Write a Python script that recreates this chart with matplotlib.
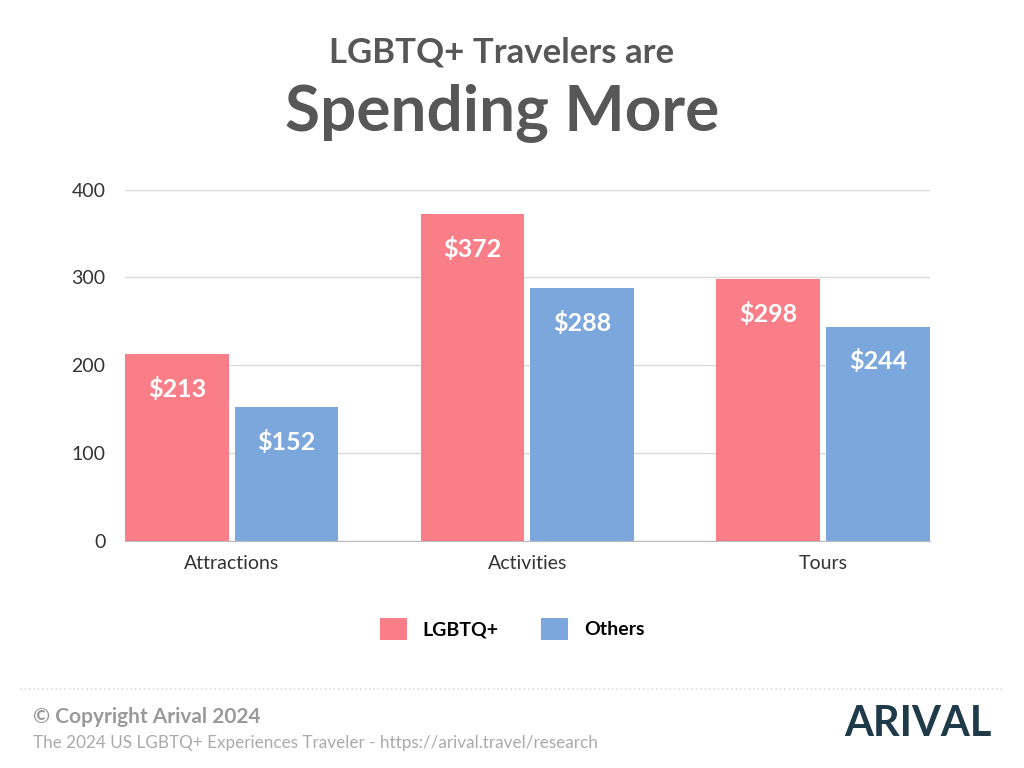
import matplotlib
matplotlib.use("Agg")
import matplotlib.pyplot as plt
import numpy as np

categories = ["Attractions", "Activities", "Tours"]
lgbtq = [213, 372, 298]
others = [152, 288, 244]
series_names = ["LGBTQ+", "Others"]
yticks = [0, 100, 200, 300, 400]

PINK = "#FA7E87"
BLUE = "#7BA7DC"
plt.rcParams["font.family"] = "Lato"

fig = plt.figure(figsize=(10.24, 7.68), dpi=100)
ax = fig.add_axes([0.122, 0.296, 0.786, 0.457])

x = np.arange(len(categories))
w = 0.351
off = w / 2 + 0.01
b1 = ax.bar(x - off, lgbtq, w, color=PINK, zorder=3)
b2 = ax.bar(x + off, others, w, color=BLUE, zorder=3)
for bars in (b1, b2):
    for b in bars:
        h = b.get_height()
        ax.text(b.get_x() + b.get_width() / 2, h - 26, f"${h:.0f}",
                ha="center", va="top", color="white", fontsize=18,
                fontweight="bold", zorder=4)

ax.set_xlim(-off - w / 2, 2 + off + w / 2)
ax.set_ylim(0, 400)
ax.set_yticks(yticks)
ax.set_xticks(x)
ax.set_xticklabels(categories)
ax.tick_params(axis="both", length=0, labelsize=14, colors="#333333")
ax.tick_params(axis="y", pad=14)
ax.tick_params(axis="x", pad=10)
ax.grid(axis="y", color="#d9d9d9", lw=1, zorder=0)
for s in ["top", "right", "left"]:
    ax.spines[s].set_visible(False)
ax.spines["bottom"].set_color("#bbbbbb")

leg = fig.legend([b1, b2], series_names, loc="center",
                 bbox_to_anchor=(0.5, 0.181), ncol=2, frameon=False,
                 handlelength=1.4, handleheight=1.4, columnspacing=2.2,
                 prop={"family": "Lato", "weight": "bold", "size": 14})

fig.text(0.49, 0.932, "LGBTQ+ Travelers are", ha="center", va="center",
         fontsize=25, color="#575757", fontweight="bold")
fig.text(0.49, 0.853, "Spending More", ha="center", va="center",
         fontsize=46, color="#575757", fontweight="bold")

fig.add_artist(plt.Line2D([0.02, 0.98], [0.103, 0.103], color="#dddddd",
                          lw=1.2, ls=":"))
fig.text(0.032, 0.066, "© Copyright Arival 2024", fontsize=15,
         color="#9a9a9a", fontweight="bold", va="center")
fig.text(0.032, 0.033,
         "The 2024 US LGBTQ+ Experiences Traveler - https://arival.travel/research",
         fontsize=12.3, color="#aaaaaa", va="center")
fig.text(0.968, 0.057, "ARIVAL", fontsize=30, color="#1f3a48",
         fontweight="bold", ha="right", va="center")

fig.savefig("out.png", dpi=100, facecolor="white")
